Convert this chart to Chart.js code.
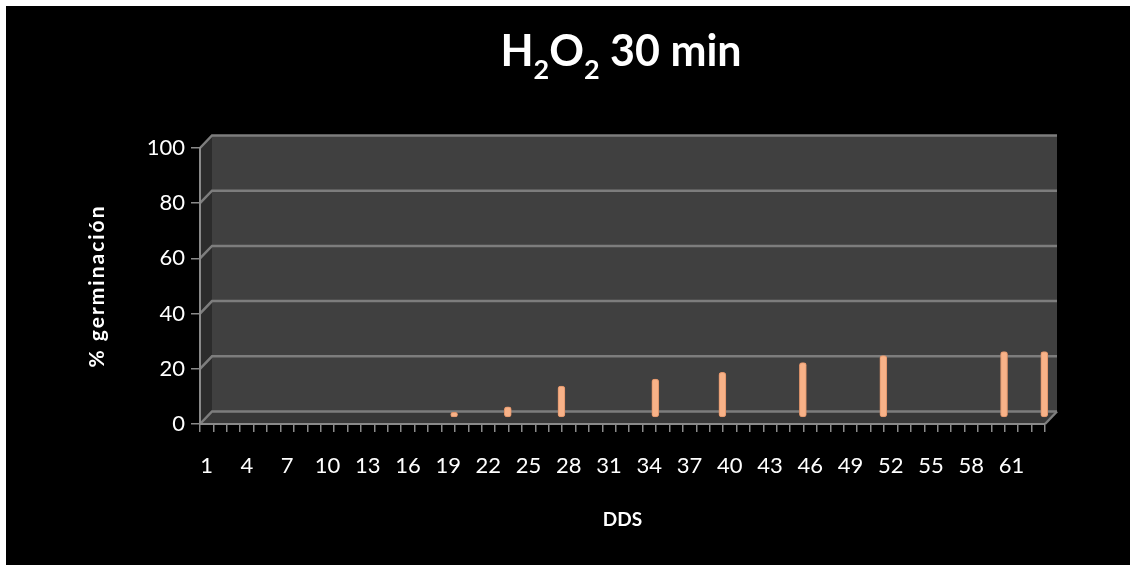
<!DOCTYPE html>
<html>
<head>
<meta charset="utf-8">
<script src="https://cdn.jsdelivr.net/npm/chart.js@4.4.0/dist/chart.umd.min.js"></script>
<style>
  html, body { margin: 0; padding: 0; background: #fff; }
  #wrap { width: 1132px; height: 570px; }
</style>
</head>
<body>
<div id="wrap"><canvas id="chart" width="1132" height="570"></canvas></div>
<script>
'use strict';

/* ---- data ---- */
const days = [
  '1','2','3','4','5','6','7','8','9','10','11','12','13','14','15','16','17','18','19','20','21',
  '22','23','24','25','26','27','28','29','30','31','32','33','34','35','36','37','38','39','40','41','42',
  '43','44','45','46','47','48','49','50','51','52','53','54','55','56','57','58','59','60','61','62','63'
];
const measuredDays = [19, 23, 27, 34, 39, 45, 51, 60, 63];
const germination  = [2, 4, 11.5, 14, 16.5, 20, 22.5, 24, 24];
const yTicks       = [0, 20, 40, 60, 80, 100];
const yTitle       = '% germinación';

/* ---- look ---- */
const DEPTH_X    = 12;     // fake 3D depth of the plot box
const DEPTH_Y    = 12.5;
const WALL       = '#404040';
const SIDE_WALL  = '#2c2c2c';
const FLOOR      = '#383838';
const GRID       = '#7d7d7d';
const AXIS       = '#8a8a8a';
const BAR_FILL   = '#f8b288';
const BAR_EDGE   = '#e0946a';
const FONT       = "Lato, 'Open Sans', sans-serif";

Chart.defaults.font.family = FONT;
Chart.defaults.color = '#ffffff';

// one value per category, null where nothing was measured
const values = days.map(d => {
  const k = measuredDays.indexOf(Number(d));
  return k >= 0 ? germination[k] : null;
});

function poly(ctx, pts, fill) {
  ctx.beginPath();
  ctx.moveTo(pts[0][0], pts[0][1]);
  for (let i = 1; i < pts.length; i++) ctx.lineTo(pts[i][0], pts[i][1]);
  ctx.closePath();
  ctx.fillStyle = fill;
  ctx.fill();
}

/* background, walls, floor and back-wall gridlines */
const frame3d = {
  id: 'frame3d',
  beforeDraw(chart) {
    const ctx = chart.ctx;
    const a = chart.chartArea;
    const y = chart.scales.y;
    const top = y.getPixelForValue(100);
    const bot = y.getPixelForValue(0);

    ctx.save();
    ctx.fillStyle = '#ffffff';
    ctx.fillRect(0, 0, chart.width, chart.height);
    ctx.fillStyle = '#000000';
    ctx.fillRect(6, 6, 1124, 559);

    // back wall, left wall, floor
    ctx.fillStyle = WALL;
    ctx.fillRect(a.left + DEPTH_X, top - DEPTH_Y, a.right - a.left, bot - top);
    poly(ctx, [[a.left, top], [a.left + DEPTH_X, top - DEPTH_Y],
               [a.left + DEPTH_X, bot - DEPTH_Y], [a.left, bot]], SIDE_WALL);
    poly(ctx, [[a.left, bot], [a.left + DEPTH_X, bot - DEPTH_Y],
               [a.right + DEPTH_X, bot - DEPTH_Y], [a.right, bot]], FLOOR);

    // gridlines: short diagonal on the side wall, then across the back wall
    ctx.strokeStyle = GRID;
    ctx.lineWidth = 2.5;
    yTicks.forEach(v => {
      const py = y.getPixelForValue(v);
      ctx.beginPath();
      ctx.moveTo(a.left, py);
      ctx.lineTo(a.left + DEPTH_X, py - DEPTH_Y);
      ctx.lineTo(a.right + DEPTH_X, py - DEPTH_Y);
      ctx.stroke();
    });
    ctx.beginPath();
    ctx.moveTo(a.right, bot);
    ctx.lineTo(a.right + DEPTH_X, bot - DEPTH_Y);
    ctx.stroke();
    ctx.restore();
  },
  afterDraw(chart) {
    const ctx = chart.ctx;
    ctx.save();
    ctx.fillStyle = '#ffffff';

    // title with subscripts: H2O2 30 min
    const big = 'bold 43px ' + FONT;
    const small = 'bold 27px ' + FONT;
    const parts = [['H', big, 0], ['2', small, 13], ['O', big, 0], ['2', small, 13], [' 30 min', big, 0]];
    ctx.textBaseline = 'alphabetic';
    let total = 0;
    parts.forEach(p => { ctx.font = p[1]; total += ctx.measureText(p[0]).width; });
    let x = 621 - total / 2;
    parts.forEach(p => {
      ctx.font = p[1];
      ctx.fillText(p[0], x, 66 + p[2]);
      x += ctx.measureText(p[0]).width;
    });

    // y axis title, rotated, loosely spaced like the original
    ctx.translate(97, 286);
    ctx.rotate(-Math.PI / 2);
    ctx.font = 'bold 21px ' + FONT;
    ctx.letterSpacing = '2px';
    ctx.textAlign = 'center';
    ctx.textBaseline = 'middle';
    ctx.fillText(yTitle, 0, 0);
    ctx.restore();
  }
};

/* push the bars half a depth back, as in the 3D original */
const depthShift = {
  id: 'depthShift',
  beforeDatasetsDraw(chart) {
    chart.ctx.save();
    chart.ctx.translate(DEPTH_X / 2, -DEPTH_Y / 2);
  },
  afterDatasetsDraw(chart) {
    chart.ctx.restore();
  }
};

new Chart(document.getElementById('chart'), {
  type: 'bar',
  data: {
    labels: days,
    datasets: [{
      label: yTitle,
      data: values,
      backgroundColor: BAR_FILL,
      borderColor: BAR_EDGE,
      borderWidth: 1,
      borderRadius: 3,
      borderSkipped: false,
      barThickness: 7
    }]
  },
  options: {
    responsive: false,
    devicePixelRatio: 1,
    animation: false,
    layout: { padding: { left: 85, top: 148, right: 87, bottom: 30 } },
    plugins: {
      legend: { display: false },
      tooltip: { enabled: false }
    },
    scales: {
      x: {
        offset: true,
        afterFit(scale) { scale.height = 116; },
        grid: {
          offset: true,
          drawOnChartArea: false,
          tickLength: 8,
          color: AXIS,
          lineWidth: 1.5
        },
        border: { display: true, color: AXIS, width: 2 },
        ticks: {
          autoSkip: false,
          maxRotation: 0,
          padding: 21,
          font: { size: 22 },
          callback: (v, i) => (i % 3 === 0 ? days[i] : '')
        },
        title: {
          display: true,
          text: 'DDS',
          font: { size: 19, weight: 'bold' },
          padding: { top: 0, bottom: 9 }
        }
      },
      y: {
        min: 0,
        max: 100,
        afterFit(scale) { scale.width = 115; },
        grid: {
          drawOnChartArea: false,
          tickLength: 9,
          color: AXIS,
          lineWidth: 1.5
        },
        border: { display: true, color: AXIS, width: 2 },
        ticks: {
          stepSize: 20,
          padding: 6,
          font: { size: 22 }
        }
      }
    }
  },
  plugins: [frame3d, depthShift]
});
</script>
</body>
</html>
